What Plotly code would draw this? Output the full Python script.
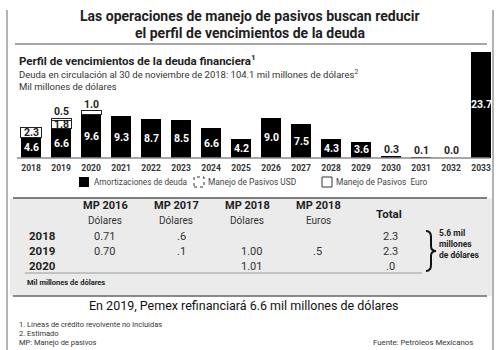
import plotly.graph_objects as go

W, H = 500, 350
FONT = "Roboto"
DARK = "#1e1e1e"

# ---------------- data ----------------
years = ["2018", "2019", "2020", "2021", "2022", "2023", "2024", "2025",
         "2026", "2027", "2028", "2029", "2030", "2031", "2032", "2033"]
amortizaciones = [4.6, 6.6, 9.6, 9.3, 8.7, 8.5, 6.6, 4.2,
                  9.0, 7.5, 4.3, 3.6, 0.3, 0.1, 0.0, 23.7]
mp_usd = [2.3, 1.8, 1.0, None, None, None, None, None,
          None, None, None, None, None, None, None, None]
mp_euro = [None, 0.5, None, None, None, None, None, None,
           None, None, None, None, None, None, None, None]

legend_labels = ["Amortizaciones de deuda", "Manejo de Pasivos USD", "Manejo de Pasivos  Euro"]

table_heads = ["MP 2016", "MP 2017", "MP 2018", "MP 2018", "Total"]
table_subs = ["Dólares", "Dólares", "Dólares", "Euros", ""]
table_rows = ["2018", "2019", "2020"]
col_mp2016 = ["0.71", "0.70", ""]
col_mp2017 = [".6", ".1", ""]
col_mp2018_usd = ["", "1.00", "1.01"]
col_mp2018_eur = ["", ".5", ""]
col_total = ["2.3", "2.3", ".0"]

# ---------------- helpers ----------------
def px(x):
    return x / W

def py(y):
    return 1 - y / H

annotations = []
shapes = []

def txt(text, x, y, size, bold=False, anchor="center", color=DARK, yanchor="middle"):
    annotations.append(dict(
        text=f"<b>{text}</b>" if bold else text,
        x=px(x), y=py(y), xref="paper", yref="paper",
        xanchor=anchor, yanchor=yanchor, showarrow=False,
        font=dict(family=FONT, size=size, color=color)))

def hline(x0, x1, y, color="#8a8a8a", width=1.5, dash="solid"):
    shapes.append(dict(type="line", xref="paper", yref="paper",
                       x0=px(x0), x1=px(x1), y0=py(y), y1=py(y),
                       line=dict(color=color, width=width, dash=dash)))

def vline(x, y0, y1, color="#8a8a8a", width=1.5):
    shapes.append(dict(type="line", xref="paper", yref="paper",
                       x0=px(x), x1=px(x), y0=py(y0), y1=py(y1),
                       line=dict(color=color, width=width)))

def rect(x0, y0, x1, y1, fill, line_color=None, width=0, dash="solid", layer="below"):
    shapes.append(dict(type="rect", xref="paper", yref="paper",
                       x0=px(x0), x1=px(x1), y0=py(y1), y1=py(y0),
                       fillcolor=fill, layer=layer,
                       line=dict(color=line_color or fill, width=width, dash=dash)))

# ---------------- bars ----------------
fig = go.Figure()
fig.add_bar(x=years, y=amortizaciones, name=legend_labels[0],
            marker=dict(color="#000000", line=dict(color="#000000", width=0)))
fig.add_bar(x=years, y=mp_usd, name=legend_labels[1],
            marker=dict(color="#ffffff", line=dict(color="#222222", width=1)))
fig.add_bar(x=years, y=mp_euro, name=legend_labels[2],
            marker=dict(color="#ffffff", line=dict(color="#222222", width=1)))

# bar value labels (data coordinates; category index on x)
LBL = 10.5
for i, yr in enumerate(years):
    v = amortizaciones[i]
    if v >= 1:
        annotations.append(dict(x=i, y=v / 2, xref="x", yref="y", text=f"<b>{v:.1f}</b>",
                                showarrow=False, yanchor="middle",
                                font=dict(family=FONT, size=LBL, color="#ffffff")))
    else:
        annotations.append(dict(x=i, y=v, xref="x", yref="y", text=f"<b>{v:.1f}</b>",
                                showarrow=False, yanchor="bottom", yshift=-1,
                                font=dict(family=FONT, size=LBL, color=DARK)))
    base = v
    stack = [s for s in (mp_usd[i], mp_euro[i]) if s is not None]
    for j, s in enumerate(stack):
        top_seg = j == len(stack) - 1
        if top_seg and s <= 1.0:
            annotations.append(dict(x=i, y=base + s, xref="x", yref="y", text=f"<b>{s:.1f}</b>",
                                    showarrow=False, yanchor="bottom", yshift=-2,
                                    font=dict(family=FONT, size=LBL, color=DARK)))
        else:
            annotations.append(dict(x=i, y=base + s / 2, xref="x", yref="y", text=f"<b>{s:.1f}</b>",
                                    showarrow=False, yanchor="middle",
                                    font=dict(family=FONT, size=LBL, color=DARK)))
        base += s

# ---------------- decorations ----------------
# frame
vline(7, 10, 350, color="#9a9a9a", width=1.5)
vline(493, 10, 350, color="#9a9a9a", width=1.5)

# titles
txt("Las operaciones de manejo de pasivos buscan reducir", 250, 16, 14, bold=True)
txt("el perfil de vencimientos de la deuda", 250, 33, 14, bold=True)
hline(15, 487, 44, color="#8a8a8a", width=1.5)

txt("Perfil de vencimientos de la deuda financiera<sup>1</sup>", 17, 60, 11.5, bold=True, anchor="left")
txt("Deuda en circulación al 30 de noviembre de 2018: 104.1 mil millones de dólares<sup>2</sup>",
    17, 74, 9.5, anchor="left", color="#333")
txt("Mil millones de dólares", 17, 86, 9.5, anchor="left", color="#333")

# baseline
hline(17, 490, 158, color="#8a8a8a", width=1.3)

# legend
rect(79, 177, 89, 187, "#000000", layer="above")
txt(legend_labels[0], 92, 182, 8.2, anchor="left", color="#444")
rect(194, 177, 204, 187, "#ffffff", line_color="#333", width=1, dash="dot", layer="above")
txt(legend_labels[1], 206, 182, 8.4, anchor="left", color="#444")
rect(322, 177, 332, 187, "#ffffff", line_color="#333", width=1, layer="above")
txt(legend_labels[2], 334, 182, 8.4, anchor="left", color="#444")

# table background
rect(10, 198, 492, 296, "#ebebeb")
hline(13, 487, 198, color="#7d7d7d", width=2)
hline(13, 487, 296, color="#8a8a8a", width=2)

col_x = [105, 176, 247, 318, 389]
for cx, head, sub in zip(col_x, table_heads, table_subs):
    if sub:
        txt(head, cx, 206, 11, bold=True)
        txt(sub, cx, 220, 10, color="#333")
    else:
        txt(head, cx, 214, 11.5, bold=True)

row_y = [236, 251, 266]
columns = [col_mp2016, col_mp2017, col_mp2018_usd, col_mp2018_eur, col_total]
col_val_x = [104, 181, 251, 317, 390]
for r, (ry, lbl) in enumerate(zip(row_y, table_rows)):
    txt(lbl, 42, ry, 11.5, bold=True)
    for cx, col in zip(col_val_x, columns):
        if col[r]:
            txt(col[r], cx, ry, 11, color="#333")

hline(25, 422, 273, color="#9a9a9a", width=1)
txt("Mil millones de dólares", 25, 282, 7.5, bold=True, anchor="left")

# brace
bx = [px(v) for v in (426, 431, 436)]
brace = (f"M {bx[0]},{py(231)} Q {bx[1]},{py(231)} {bx[1]},{py(237)} "
         f"L {bx[1]},{py(246)} Q {bx[1]},{py(251)} {bx[2]},{py(251)} "
         f"Q {bx[1]},{py(251)} {bx[1]},{py(256)} "
         f"L {bx[1]},{py(265)} Q {bx[1]},{py(271)} {bx[0]},{py(271)}")
shapes.append(dict(type="path", xref="paper", yref="paper", path=brace,
                   line=dict(color="#111", width=2)))
txt("5.6 mil", 437, 233, 8.5, bold=True, anchor="left")
txt("millones", 437, 244, 8.5, bold=True, anchor="left")
txt("de dólares", 437, 255, 8.5, bold=True, anchor="left")

# bottom text
txt("En 2019, Pemex refinanciará 6.6 mil millones de dólares", 244, 305, 12.5, color="#111")
txt("1. Líneas de crédito revolvente no incluidas", 17, 324, 7.5, anchor="left", color="#333")
txt("2. Estimado", 17, 333, 7.5, anchor="left", color="#333")
txt("MP: Manejo de pasivos", 17, 342, 7.5, anchor="left", color="#333")
txt("Fuente: Petróleos Mexicanos", 371, 342, 7.8, anchor="left", color="#333")

fig.update_layout(
    width=W, height=H, barmode="stack", bargap=0.333,
    margin=dict(l=0, r=0, t=0, b=0),
    paper_bgcolor="#ffffff", plot_bgcolor="rgba(0,0,0,0)",
    showlegend=False,
    annotations=annotations, shapes=shapes,
    xaxis=dict(domain=[16 / W, 496 / W], range=[-0.5, 15.5], type="category",
               showgrid=False, zeroline=False, showline=False, ticks="",
               ticklabelstandoff=3,
               tickfont=dict(family=FONT, size=8.5, color="#333", weight="bold"),
               automargin=False),
    yaxis=dict(domain=[1 - 158 / H, 1 - 46 / H], range=[0, 25],
               visible=False, automargin=False),
    font=dict(family=FONT),
)

fig.write_html("out.html")
